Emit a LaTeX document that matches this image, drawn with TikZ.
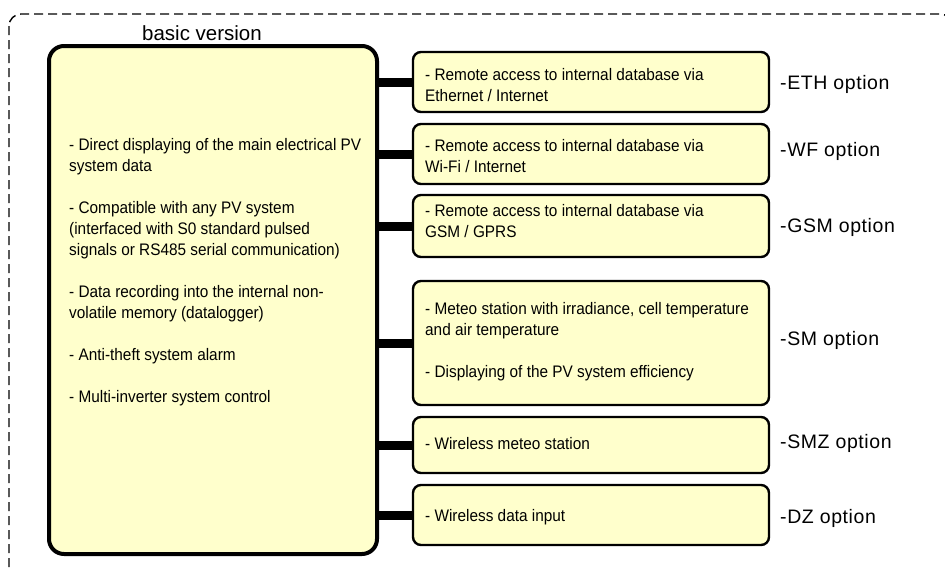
\documentclass[tikz,border=0pt]{standalone}
\usepackage{fontspec}
\setmainfont{Liberation Sans}
\newfontfamily\narrowfont[FakeStretch=0.92]{Liberation Sans}
\newfontfamily\lblfont[LetterSpace=3]{Liberation Sans}
\definecolor{boxfill}{HTML}{FFFFCC}
\tikzset{
  outerframe/.style={draw=black, line width=1.4pt, dash pattern=on 9pt off 5pt, rounded corners=12pt},
  mainbox/.style={draw=black, fill=boxfill, line width=4pt, rounded corners=15pt, inner sep=0pt, minimum width=328pt, minimum height=508pt},
  optbox/.style={draw=black, fill=boxfill, line width=2.4pt, rounded corners=8pt, inner sep=0pt, minimum width=356pt},
  conn/.style={draw=black, line width=9pt},
  txt/.style={inner sep=0pt, anchor=base west},
  lbl/.style={inner sep=0pt, anchor=base west, font=\lblfont\fontsize{19.5}{24}\selectfont},
}
\newcommand{\boxtext}[1]{\parbox[t]{340pt}{\raggedright\narrowfont\fontsize{16.7}{21}\selectfont #1}}
\begin{document}
\begin{tikzpicture}[x=1pt, y=-1pt]
\useasboundingbox (0,0) rectangle (945,568);
\begin{scope}
  \clip (0,0) rectangle (945,568);
  \draw[outerframe] (9,14) rectangle (952,600);
\end{scope}

% main box
\node[mainbox] (main) at (213,300) {};
\node[inner sep=0pt, anchor=base, font=\fontsize{20.5}{24}\selectfont] (basic) at (202,40) {basic version};
\node[txt] (mainT) at (69,150.5) {\boxtext{%
- Direct displaying of the main electrical PV\\
system data\\[21pt]
- Compatible with any PV system\\
(interfaced with S0 standard pulsed\\
signals or RS485 serial communication)\\[21pt]
- Data recording into the internal non-\\
volatile memory (datalogger)\\[21pt]
- Anti-theft system alarm\\[21pt]
- Multi-inverter system control}};

% option boxes
\node[optbox, minimum height=60pt] (eth) at (591,82) {};
\node[optbox, minimum height=60pt] (wf) at (591,154) {};
\node[optbox, minimum height=62pt] (gsm) at (591,226) {};
\node[optbox, minimum height=124pt] (sm) at (591,343) {};
\node[optbox, minimum height=56pt] (smz) at (591,445) {};
\node[optbox, minimum height=60pt] (dz) at (591,515) {};

% texts in option boxes
\node[txt] (ethT) at (425,80) {\boxtext{- Remote access to internal database via\\ Ethernet / Internet}};
\node[txt] (wfT) at (425,151) {\boxtext{- Remote access to internal database via\\ Wi-Fi / Internet}};
\node[txt] (gsmT) at (425,216) {\boxtext{- Remote access to internal database via\\ GSM / GPRS}};
\node[txt] (smT) at (425,314.5) {\boxtext{- Meteo station with irradiance, cell temperature\\ and air temperature\\[21pt] - Displaying of the PV system efficiency}};
\node[txt] (smzT) at (425,449) {\boxtext{- Wireless meteo station}};
\node[txt] (dzT) at (425,521) {\boxtext{- Wireless data input}};

% connectors
\foreach \b in {eth,wf,gsm,sm,smz,dz}{
  \draw[conn] (main.east |- \b.west) -- (\b.west);
}

% option labels
\node[lbl] (ethL) at (780,89) {-ETH option};
\node[lbl] (wfL) at (780,156.5) {-WF option};
\node[lbl] (gsmL) at (780,232) {-GSM option};
\node[lbl] (smL) at (780,345) {-SM option};
\node[lbl] (smzL) at (780,448.5) {-SMZ option};
\node[lbl] (dzL) at (780,523.5) {-DZ option};
\end{tikzpicture}
\end{document}
